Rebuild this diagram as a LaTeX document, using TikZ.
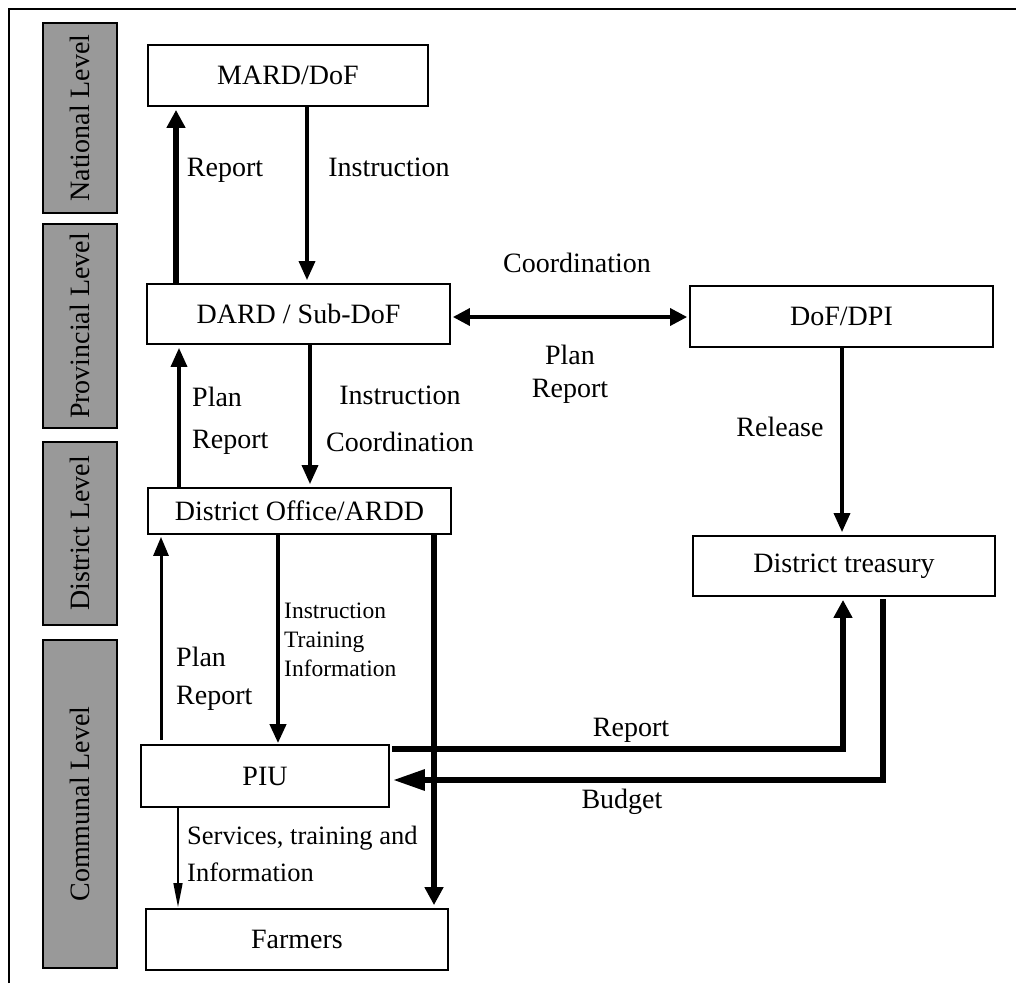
\documentclass[tikz,border=0pt]{standalone}
\usepackage{fontspec}
\setmainfont{Liberation Serif}
\usetikzlibrary{arrows.meta}
\begin{document}
\begin{tikzpicture}[x=1pt,y=-1pt,
  txt/.style={font=\fontsize{28}{34}\selectfont, inner sep=0pt},
  small/.style={font=\fontsize{23.5}{29}\selectfont, inner sep=0pt},
  box/.style={draw, line width=1.8pt, fill=white, font=\fontsize{28}{34}\selectfont, inner sep=0pt},
  level/.style={draw, line width=1.8pt, fill=black!40, minimum width=74pt, inner sep=0pt,
    font=\fontsize{28}{34}\selectfont},
  tipm/.style={-{Triangle[width=16pt,length=19pt]}, line width=3.5pt, shorten >=3pt},
  tipk/.style={-{Triangle[width=18pt,length=18pt]}, line width=6pt, shorten >=3pt},
]
\useasboundingbox (0,0) rectangle (1016,983);
% outer frame
\draw[line width=1.8pt] (9,983) -- (9,9) -- (1016,9);

% level labels
\node[level, minimum height=190pt] (nat) at (80,118) {\rotatebox{90}{National Level}};
\node[level, minimum height=204pt] (prov) at (80,326) {\rotatebox{90}{Provincial Level}};
\node[level, minimum height=183pt] (dist) at (80,533.5) {\rotatebox{90}{District Level}};
\node[level, minimum height=328pt] (comm) at (80,804) {\rotatebox{90}{Communal Level}};

% boxes
\node[box, minimum width=280pt, minimum height=61pt] (mard) at (288,75.5) {MARD/DoF};
\node[box, minimum width=303pt, minimum height=60pt] (dard) at (298.5,314) {DARD / Sub-DoF};
\node[box, minimum width=303pt, minimum height=46pt] (dio) at (299.5,511) {District Office/ARDD};
\node[box, minimum width=303pt, minimum height=61pt] (dof) at (841.5,316.5) {DoF/DPI};
\node[box, minimum width=302pt, minimum height=60pt] (tre) at (844,566) {District treasury};
\node[box, minimum width=248pt, minimum height=62pt] (piu) at (265,776) {PIU};
\node[box, minimum width=302pt, minimum height=61pt] (far) at (297,939.5) {Farmers};

% national <-> provincial
\draw[tipk] (dard.north -| 176,0) -- (mard.south -| 176,0);
\draw[tipm] (mard.south -| 307,0) -- (dard.north -| 307,0);
% coordination
\draw[{Triangle[width=17pt,length=17pt]}-{Triangle[width=17pt,length=17pt]}, line width=3.5pt, shorten <=2pt, shorten >=2pt]
  (dard.east |- 0,317) -- (dof.west |- 0,317);
% provincial <-> district
\draw[tipm] (dio.north -| 179,0) -- (dard.south -| 179,0);
\draw[tipm] (dard.south -| 310,0) -- (dio.north -| 310,0);
% release
\draw[tipm] (dof.south -| 842,0) -- (tre.north -| 842,0);
% district -> farmers
\draw[tipk] (dio.south -| 434,0) -- (far.north -| 434,0);
% district -> PIU
\draw[-{Triangle[width=16pt,length=19pt]}, line width=4pt, shorten >=1pt] (dio.south -| 278,0) -- (piu.north -| 278,0);
% PIU -> district
\coordinate (pr0) at (161,740);
\draw[-{Triangle[width=15pt,length=19pt]}, line width=3pt, shorten >=2pt] (pr0) -- (dio.south -| pr0);
% PIU -> farmers
\draw[-{Triangle[width=9pt,length=24pt]}, line width=1.5pt, shorten >=1pt] (piu.south -| 178,0) -- (far.north -| 178,0);
% report to treasury
\coordinate (rp0) at (392,749);
\coordinate (rp1) at (843,749);
\draw[tipk, line join=miter] (rp0) -- (rp1) -- (tre.south -| rp1);
% budget
\coordinate (bg0) at (883,599);
\coordinate (bg1) at (883,780);
\draw[-{Triangle[width=20pt,length=32pt]}, line width=6pt, shorten >=3pt, line join=miter] (bg0) -- (bg1) -- (piu.east |- bg1);

% labels
\node[txt] (l1) at (225,170) {Report};
\node[txt] (l2) at (389,167) {Instruction};
\node[txt] (l3) at (577,263) {Coordination};
\node[txt, align=center, font=\fontsize{28}{33}\selectfont] (l4) at (570,374) {Plan\\Report};
\node[txt, align=left, anchor=west, font=\fontsize{28}{42}\selectfont] (l5) at (192,421) {Plan\\Report};
\node[txt, align=center, font=\fontsize{28}{47}\selectfont] (l6) at (400,418.5) {Instruction\\Coordination};
\node[txt] (l7) at (780,427) {Release};
\node[txt, align=left, anchor=west, font=\fontsize{28}{38}\selectfont] (l8) at (176,679) {Plan\\Report};
\node[small, align=left, anchor=west] (l9) at (284,640) {Instruction\\Training\\Information};
\node[txt] (l10) at (631,730) {Report};
\node[txt] (l11) at (622,802) {Budget};
\node[txt, align=left, anchor=west, font=\fontsize{26.5}{37}\selectfont] (l12) at (187,853.5) {Services, training and\\Information};
\end{tikzpicture}
\end{document}
